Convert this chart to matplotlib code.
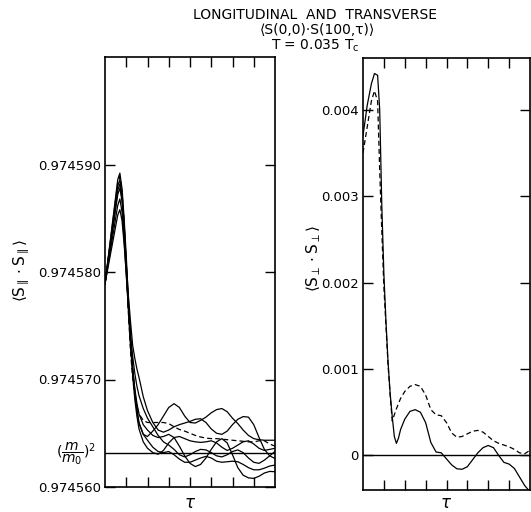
import matplotlib
matplotlib.use("Agg")
import matplotlib.pyplot as plt
import numpy as np

# longitudinal <S||.S||>, values in units of 1e-6 above 0.974560
long_base = 0.97456
tau_long = [0, 0.6, 0.7, 0.8, 0.9, 1.0, 1.1, 1.2, 1.3, 1.4, 1.5, 1.6, 1.8,
            2.0, 2.25, 2.5, 2.75, 3.0, 3.25, 3.5, 3.75, 4.0, 4.25, 4.5, 4.75,
            5.0, 5.25, 5.5, 5.75, 6.0, 6.25, 6.5, 6.75, 7.0, 7.25, 7.5, 7.75, 8.0]

long_solid = [
    [18.9, 28.6, 29.2, 27.8, 25.0, 21.5, 17.5, 14.0, 11.2, 9.0, 7.3, 6.0, 4.9,
     4.7, 5.2, 5.8, 6.6, 7.4, 7.75, 7.4, 6.6, 6.0, 5.95, 6.2, 6.5,
     6.9, 7.2, 7.3, 7.0, 6.4, 5.9, 5.3, 4.8, 4.5, 4.4, 4.35, 4.35, 4.35],
    [18.9, 27.2, 27.8, 26.6, 24.0, 20.8, 17.8, 15.4, 13.2, 12.0, 11.0, 10.2, 8.4,
     7.1, 6.0, 5.3, 5.1, 5.3, 5.6, 5.8, 5.95, 6.1, 6.3, 6.35, 6.0,
     5.4, 5.0, 4.9, 5.2, 5.8, 6.3, 6.55, 6.5, 5.8, 4.6, 3.5, 2.9, 2.65],
    [18.9, 26.2, 26.8, 25.6, 23.0, 19.8, 16.5, 13.5, 11.0, 9.2, 7.8, 6.8, 5.8,
     5.3, 4.8, 4.6, 4.7, 4.9, 4.6, 3.8, 2.9, 2.2, 1.9, 2.1, 2.7,
     3.5, 4.2, 4.5, 4.1, 3.0, 1.8, 1.1, 0.85, 0.8, 1.0, 1.3, 1.45, 1.42],
    [18.9, 28.0, 28.6, 27.2, 24.4, 20.8, 16.8, 13.2, 10.4, 8.2, 6.6, 5.4, 4.2,
     3.6, 3.2, 3.05, 3.4, 4.1, 4.6, 4.7, 4.5, 4.3, 4.2, 4.15, 4.2,
     4.3, 4.1, 3.7, 3.4, 3.6, 3.9, 4.2, 4.3, 4.0, 3.6, 3.4, 3.5, 3.6],
    [18.9, 25.3, 25.8, 24.8, 22.6, 19.8, 16.8, 14.2, 12.2, 10.6, 9.4, 8.5, 7.3,
     6.4, 5.6, 4.8, 4.2, 3.9, 3.5, 3.0, 2.8, 3.0, 3.3, 3.5, 3.45,
     3.2, 2.9, 2.8, 3.0, 3.3, 3.45, 3.2, 2.7, 2.3, 2.2, 2.5, 2.9, 3.3],
    [18.9, 27.6, 28.2, 26.9, 24.2, 20.6, 16.9, 13.6, 10.9, 8.8, 7.1, 5.9, 4.9,
     4.35, 3.7, 3.3, 3.2, 3.3, 3.0, 2.6, 2.3, 2.3, 2.5, 2.7, 2.85,
     2.7, 2.4, 2.3, 2.35, 2.4, 2.35, 2.1, 1.8, 1.6, 1.6, 1.75, 1.95, 2.04],
]
long_dashed = [18.9, 28.3, 28.9, 27.5, 24.6, 20.5, 16.2, 12.6, 10.2, 8.6, 7.5, 6.8, 6.2,
               6.0, 6.0, 6.0, 6.0, 5.9, 5.6, 5.35, 5.2, 5.0, 4.8, 4.65, 4.55,
               4.5, 4.5, 4.45, 4.4, 4.35, 4.3, 4.25, 4.2, 4.2, 4.3, 4.3, 4.0, 3.8]
m_ratio_sq = 3.12  # (m/m0)^2 level

# transverse <S_perp.S_perp>, values in units of 1e-3
tau_trans = [0, 0.2, 0.4, 0.55, 0.7, 0.8, 0.9, 1.0, 1.1, 1.2, 1.3, 1.4, 1.5, 1.6, 1.7, 1.8,
             2.0, 2.25, 2.5, 2.75, 3.0, 3.25, 3.5, 3.75, 4.0, 4.25, 4.5, 4.75,
             5.0, 5.25, 5.5, 5.75, 6.0, 6.25, 6.5, 6.75, 7.0, 7.25, 7.5, 7.75, 8.0]
trans_solid = [3.7, 4.05, 4.3, 4.42, 4.4, 4.0, 2.9, 2.1, 1.55, 1.08, 0.72, 0.45, 0.22, 0.14, 0.2, 0.3,
               0.42, 0.51, 0.53, 0.5, 0.38, 0.15, 0.04, 0.03, -0.04, -0.11, -0.155, -0.16,
               -0.13, -0.05, 0.03, 0.09, 0.115, 0.09, 0.0, -0.08, -0.1, -0.15, -0.25, -0.35, -0.42]
trans_dashed = [3.5, 3.8, 4.1, 4.22, 4.1, 3.3, 2.6, 1.95, 1.5, 1.05, 0.7, 0.40, 0.47, 0.54, 0.6, 0.66,
                0.74, 0.8, 0.82, 0.8, 0.7, 0.53, 0.47, 0.46, 0.38, 0.26, 0.21, 0.22,
                0.25, 0.28, 0.29, 0.27, 0.22, 0.17, 0.14, 0.12, 0.1, 0.07, 0.03, 0.02, 0.06]

long_ticks = [0.97456, 0.97457, 0.97458, 0.97459]
long_ticklabels = ["0.974560", "0.974570", "0.974580", "0.974590"]
trans_ticks = [0, 0.001, 0.002, 0.003, 0.004]
trans_ticklabels = ["0", "0.001", "0.002", "0.003", "0.004"]

dash = (0, (4, 2.5))
W, H = 531, 512

fig = plt.figure(figsize=(W / 100, H / 100), dpi=100)
ax1 = fig.add_axes([105 / W, 25 / H, 170 / W, 430 / H])
ax2 = fig.add_axes([363 / W, 22 / H, 167 / W, 432 / H])

for ax in (ax1, ax2):
    ax.set_xlim(0, 8)
    ax.set_xticks(range(1, 8))
    ax.set_xticklabels([])
    ax.tick_params(direction="in", length=7, width=1, top=True, right=True,
                   labelsize=9.5, pad=3, colors="black")
    for s in ax.spines.values():
        s.set_linewidth(1.2)

# left panel
t = np.array(tau_long)
for c in long_solid:
    ax1.plot(t, long_base + np.array(c) * 1e-6, color="black", lw=0.9)
ax1.plot(t, long_base + np.array(long_dashed) * 1e-6, color="black", lw=0.9, linestyle=dash)
ax1.axhline(long_base + m_ratio_sq * 1e-6, color="black", lw=1.0)
ax1.set_ylim(0.97456, 0.97460)
ax1.set_yticks(long_ticks)
ax1.set_yticklabels(long_ticklabels)
ax1.text(-0.05, m_ratio_sq / 40, r"$(\dfrac{m}{m_0})^2$", transform=ax1.transAxes,
         ha="right", va="center", fontsize=10)

# right panel
t2 = np.array(tau_trans)
ax2.plot(t2, np.array(trans_solid) * 1e-3, color="black", lw=0.9)
ax2.plot(t2, np.array(trans_dashed) * 1e-3, color="black", lw=0.9, linestyle=dash)
ax2.axhline(0, color="black", lw=1.0)
ax2.set_ylim(-0.0004, 0.0046)
ax2.set_yticks(trans_ticks)
ax2.set_yticklabels(trans_ticklabels)

# titles and labels
fig.text(315 / W, 1 - 15 / H, "LONGITUDINAL  AND  TRANSVERSE", ha="center", va="center", fontsize=10)
fig.text(317 / W, 1 - 30 / H, "\u27e8S(0,0)\u00b7S(100,\u03c4)\u27e9",
         ha="center", va="center", fontsize=10)
fig.text(315 / W, 1 - 46 / H, r"T = 0.035 T$_\mathrm{c}$", ha="center", va="center", fontsize=10)

fig.text(22 / W, 1 - 271 / H, r"$\langle \mathrm{S}_{\parallel}\cdot \mathrm{S}_{\parallel}\rangle$",
         rotation=90, ha="center", va="center", fontsize=11)
fig.text(314 / W, 1 - 258 / H, r"$\langle \mathrm{S}_{\perp}\cdot \mathrm{S}_{\perp}\rangle$",
         rotation=90, ha="center", va="center", fontsize=11)

fig.text(190 / W, 1 - 503 / H, r"$\tau$", ha="center", va="center", fontsize=12)
fig.text(446 / W, 1 - 503 / H, r"$\tau$", ha="center", va="center", fontsize=12)

fig.savefig("out.png", dpi=100)
